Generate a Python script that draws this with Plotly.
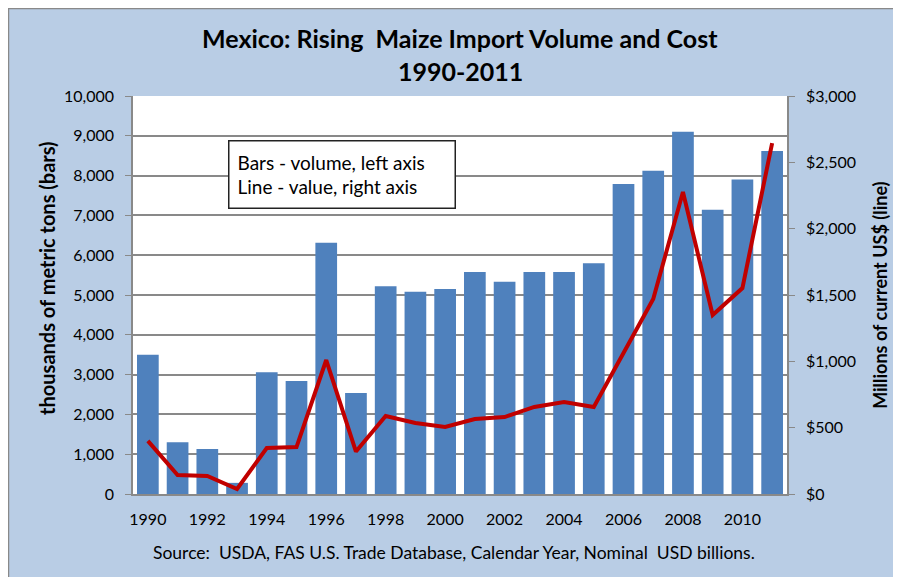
import plotly.graph_objects as go

years = list(range(1990, 2012))
volume_kt = [3500, 1300, 1130, 280, 3060, 2840, 6310, 2540, 5220, 5080,
             5150, 5580, 5330, 5580, 5580, 5800, 7790, 8120, 9100, 7140,
             7900, 8620]
value_musd = [400, 143, 136, 38, 347, 354, 1010, 320, 588, 535,
              505, 565, 580, 656, 693, 656, 1063, 1470, 2276, 1349,
              1552, 2645]
left_ticks = list(range(0, 10001, 1000))
right_ticks = list(range(0, 3001, 500))
right_labels = ["$" + format(v, ",d") for v in right_ticks]

BG = "#B9CDE5"
GRID = "#898989"
FONT = "Lato"

fig = go.Figure()
fig.add_trace(go.Bar(x=years, y=volume_kt, marker=dict(color="#4F81BD", line=dict(width=0)),
                     yaxis="y", showlegend=False))
fig.add_trace(go.Scatter(x=years, y=value_musd, mode="lines", yaxis="y2",
                         line=dict(color="#C00000", width=4), showlegend=False))

# page body has an 8px margin, so the figure is 8px smaller and margins shifted
fig.update_layout(
    width=893, height=569,
    margin=dict(l=125, r=114, t=88, b=83),
    paper_bgcolor="white", plot_bgcolor="white",
    font=dict(family=FONT, color="black", size=16),
    bargap=0.27,
    xaxis=dict(range=[1989.5, 2011.5], tickmode="array", tickvals=list(range(1990, 2011, 2)),
               ticks="outside", ticklen=10, tickcolor="rgba(0,0,0,0)", showgrid=False,
               showline=True, linecolor=GRID, linewidth=1.5, zeroline=False,
               tickfont=dict(size=16)),
    yaxis=dict(range=[0, 10000], tickvals=left_ticks, tickformat=",d", ticks="outside",
               ticklen=6, tickcolor=GRID, showline=True, linecolor=GRID, linewidth=1.5,
               showgrid=True, gridcolor=GRID, gridwidth=1.5, zeroline=False,
               ticklabelstandoff=8),
    yaxis2=dict(range=[0, 3000], tickvals=right_ticks, ticktext=right_labels,
                overlaying="y", side="right", ticks="outside", ticklen=6, tickcolor=GRID,
                showline=True, linecolor=GRID, linewidth=1.5, showgrid=False, zeroline=False,
                ticklabelstandoff=8),
    shapes=[
        dict(type="rect", xref="paper", yref="paper", x0=-0.1904, x1=1.1713, y0=-0.25, y1=1.2199,
             fillcolor=BG, line=dict(color=GRID, width=1.5), layer="below"),
        dict(type="rect", xref="paper", yref="paper", x0=0, x1=1, y0=0, y1=1,
             fillcolor="white", line=dict(width=0), layer="below"),
    ],
    annotations=[
        dict(text="<b>Mexico: Rising  Maize Import Volume and Cost</b>", xref="paper", yref="paper",
             x=0.5, y=1.1457, showarrow=False, font=dict(size=25), xanchor="center", yanchor="middle"),
        dict(text="<b>1990-2011</b>", xref="paper", yref="paper",
             x=0.5, y=1.0628, showarrow=False, font=dict(size=25), xanchor="center", yanchor="middle"),
        dict(text="<b>thousands of metric tons (bars)</b>", xref="paper", yref="paper",
             x=-0.1315, y=0.543, textangle=-90, showarrow=False, font=dict(size=20),
             xanchor="center", yanchor="middle"),
        dict(text="<b>Millions of current US$ (line)</b>", xref="paper", yref="paper",
             x=1.142, y=0.5, textangle=-90, showarrow=False, font=dict(size=18),
             xanchor="center", yanchor="middle"),
        dict(text="Bars - volume, left axis<br>Line - value, right axis", xref="paper", yref="paper",
             x=0.145, y=0.889, xanchor="left", yanchor="top", showarrow=False, align="left",
             bgcolor="white", bordercolor="#222222", borderwidth=1.5, borderpad=8,
             width=209, height=50, font=dict(size=19)),
        dict(text="Source:  USDA, FAS U.S. Trade Database, Calendar Year, Nominal  USD billions.",
             xref="paper", yref="paper", x=0.491, y=-0.148, showarrow=False,
             font=dict(size=17.5), xanchor="center", yanchor="middle"),
    ],
)

fig.write_html("out.html")
